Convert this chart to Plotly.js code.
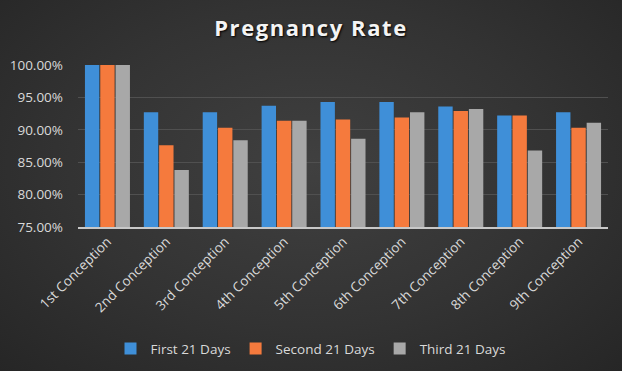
<!DOCTYPE html>
<html>
<head>
<meta charset="utf-8">
<script src="https://cdn.plot.ly/plotly-3.0.1.min.js"></script>
<style>
html,body{margin:0;padding:0;}
body{width:622px;height:371px;background:radial-gradient(ellipse at 50% 45%, #404040 0%, #333333 55%, #262626 100%);}
#chart{width:622px;height:371px;}
.gtitle{letter-spacing:1.6px;}
</style>
</head>
<body>
<div id="chart"></div>
<script>
const categories = ["1st Conception","2nd Conception","3rd Conception","4th Conception","5th Conception","6th Conception","7th Conception","8th Conception","9th Conception"];
const seriesNames = ["First 21 Days","Second 21 Days","Third 21 Days"];
const first21 = [100, 92.7, 92.7, 93.7, 94.3, 94.3, 93.6, 92.2, 92.7];
const second21 = [100, 87.6, 90.3, 91.4, 91.6, 91.9, 92.9, 92.2, 90.3];
const third21 = [100, 83.8, 88.4, 91.4, 88.6, 92.7, 93.2, 86.8, 91.1];
const colors = ["#3f8fd8", "#f57a3d", "#a8a8a8"];
const yTicks = [75, 80, 85, 90, 95, 100];

const values = [first21, second21, third21];
const traces = values.map((v, i) => ({
  type: 'bar',
  name: seriesNames[i],
  x: categories,
  y: v,
  marker: {color: colors[i], line: {width: 0}},
  hoverinfo: 'x+y'
}));

const layout = {
  width: 622, height: 371,
  paper_bgcolor: 'rgba(0,0,0,0)',
  plot_bgcolor: 'rgba(0,0,0,0)',
  margin: {l: 78, r: 14, t: 65, b: 144},
  barmode: 'group',
  bargap: 0.22,
  bargroupgap: 0.06,
  title: {
    text: '<b>Pregnancy Rate</b>',
    font: {family: '"Open Sans", sans-serif', size: 22, color: '#f4f4f4', shadow: '1px 1px 2px #000'},
    x: 0.5, xanchor: 'center', xref: 'container',
    y: 0.925, yanchor: 'middle', yref: 'container'
  },
  xaxis: {
    tickangle: -45,
    tickfont: {family: '"Open Sans", sans-serif', size: 13.5, color: '#d9d9d9'},
    showline: true, linecolor: '#c8c8c8', linewidth: 1.5,
    ticks: '', showgrid: false
  },
  yaxis: {
    range: [75, 100],
    tickvals: yTicks,
    ticktext: yTicks.map(t => t.toFixed(2) + '%'),
    tickfont: {family: '"Open Sans", sans-serif', size: 13.5, color: '#d9d9d9'},
    showgrid: true, gridcolor: '#505050', gridwidth: 1,
    zeroline: false, showline: false, ticks: '',
    ticklabelstandoff: 14
  },
  legend: {
    orientation: 'h',
    x: 0.5, xanchor: 'center', xref: 'container',
    y: 0.06, yanchor: 'middle', yref: 'container',
    font: {family: '"Open Sans", sans-serif', size: 13.5, color: '#d9d9d9'},
    itemwidth: 30,
    bgcolor: 'rgba(0,0,0,0)'
  },
  showlegend: true
};

Plotly.newPlot('chart', traces, layout, {displayModeBar: false, staticPlot: true});
</script>
</body>
</html>
